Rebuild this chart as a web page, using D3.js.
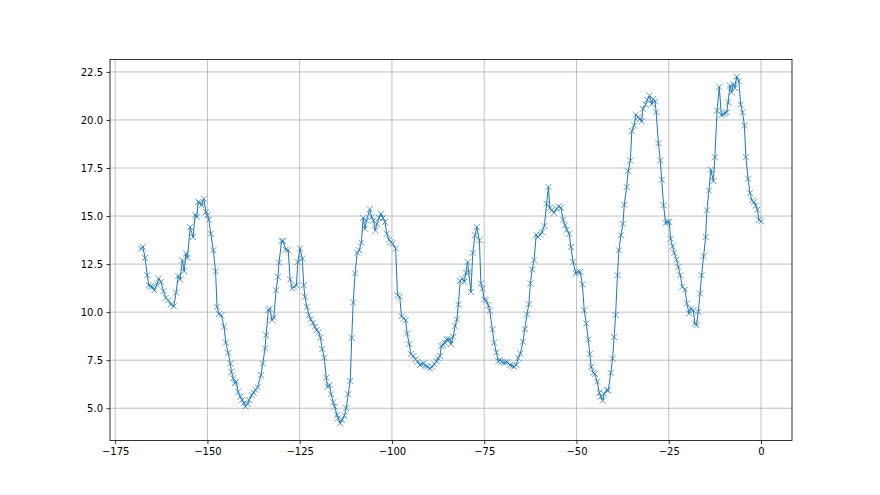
<!DOCTYPE html>
<html>
<head>
<meta charset="utf-8">
<script src="https://d3js.org/d3.v7.min.js"></script>
<style>
  body { margin: 0; background: #fff; }
  .tick text { font-family: "DejaVu Sans", sans-serif; font-size: 10px; fill: #000; }
</style>
</head>
<body>
<div id="chart"></div>
<script>
// hours before now (x) and readings (y)
var hours = [
  -168.0, -167.5, -166.9, -166.3, -165.9, -165.4, -164.9, -164.4, -163.7, -163.2,
  -162.6, -161.9, -161.3, -160.6, -159.9, -159.1, -158.5, -157.9, -157.4, -156.8,
  -156.3, -155.8, -155.4, -154.7, -153.9, -153.3, -152.9, -152.5, -152.0, -151.6,
  -151.0, -150.4, -150.0, -149.6, -149.1, -148.4, -147.8, -147.4, -146.9, -146.2,
  -145.5, -145.0, -144.4, -143.8, -143.5, -143.0, -142.6, -142.2, -141.7, -141.1,
  -140.6, -140.1, -139.7, -139.1, -138.7, -138.0, -137.5, -137.0, -136.4, -135.5,
  -135.0, -134.4, -134.1, -133.5, -133.1, -132.5, -132.0, -131.4, -130.9, -130.6,
  -129.9, -129.5, -128.8, -128.1, -127.6, -127.0, -126.5, -125.9, -125.5, -124.9,
  -124.3, -123.9, -123.6, -123.05, -122.5, -122.0, -121.4, -120.9, -120.4, -119.9,
  -119.4, -118.9, -118.35, -117.8, -117.45, -116.9, -116.5, -115.9, -115.5, -114.9,
  -114.6, -114.0, -113.5, -112.9, -112.4, -111.85, -111.3, -110.9, -110.5, -110.0,
  -109.4, -108.9, -108.3, -107.8, -107.3, -106.9, -106.0, -105.5, -105.0, -104.5,
  -104.1, -103.5, -103.0, -102.4, -101.9, -101.4, -100.8, -100.3, -99.8, -99.0,
  -98.5, -97.9, -97.4, -96.8, -96.3, -95.9, -95.3, -94.9, -94.2, -93.6,
  -93.06, -92.4, -92.0, -91.4, -90.9, -90.35, -89.7, -89.1, -88.5, -87.9,
  -87.5, -87.0, -86.6, -86.1, -85.7, -85.2, -84.75, -84.3, -84.0, -83.4,
  -82.9, -82.4, -82.0, -81.5, -80.95, -80.4, -80.0, -79.5, -79.2, -78.6,
  -78.1, -77.5, -77.0, -76.3, -75.9, -75.5, -75.0, -74.5, -73.9, -73.5,
  -72.8, -72.3, -71.7, -71.2, -70.7, -70.3, -69.75, -69.2, -68.7, -68.0,
  -67.4, -66.9, -66.3, -65.8, -65.2, -64.5, -64.0, -63.4, -62.9, -62.5,
  -62.0, -61.5, -60.9, -60.4, -59.8, -59.4, -58.7, -58.1, -57.6, -57.2,
  -56.7, -56.1, -55.4, -54.8, -54.2, -53.6, -53.1, -52.6, -52.0, -51.5,
  -50.9, -50.2, -49.7, -49.0, -48.4, -47.9, -47.35, -46.8, -46.4, -46.0,
  -45.45, -45.0, -44.4, -43.8, -43.4, -42.9, -42.5, -41.8, -41.4, -40.7,
  -40.2, -39.8, -39.4, -38.9, -38.5, -37.95, -37.4, -37.05, -36.4, -36.0,
  -35.4, -35.0, -34.4, -33.9, -33.3, -32.8, -32.35, -32.0, -31.3, -30.8,
  -30.2, -29.6, -29.2, -28.7, -28.4, -27.8, -27.3, -26.9, -26.4, -25.85,
  -25.3, -24.85, -24.5, -23.95, -23.5, -22.9, -22.4, -21.9, -21.3, -20.6,
  -20.07, -19.5, -19.0, -18.35, -17.9, -17.5, -17.0, -16.5, -16.1, -15.55,
  -15.0, -14.65, -14.1, -13.6, -12.9, -12.5, -11.9, -11.3, -10.75, -10.2,
  -9.7, -9.3, -8.9, -8.4, -7.96, -7.5, -7.1, -6.6, -6.0, -5.5,
  -5.0, -4.5, -4.1, -3.5, -3.0, -2.45, -1.9, -1.4, -1.0, -0.55,
  0.0
];

var temps = [
  13.30, 13.40, 12.82, 11.92, 11.40, 11.35, 11.31, 11.14, 11.44, 11.75,
  11.57, 11.09, 10.74, 10.62, 10.40, 10.31, 11.02, 11.89, 11.70, 12.70,
  12.13, 13.05, 12.82, 14.43, 13.91, 15.07, 14.95, 15.73, 15.68, 15.56,
  15.90, 15.21, 15.04, 14.81, 14.08, 13.22, 12.13, 10.28, 9.90, 9.84,
  9.24, 8.41, 7.89, 7.33, 6.90, 6.56, 6.30, 6.38, 5.86, 5.60,
  5.43, 5.26, 5.09, 5.22, 5.43, 5.69, 5.81, 5.95, 6.09, 6.73,
  7.33, 8.11, 8.81, 10.10, 10.19, 9.58, 9.72, 11.14, 11.84, 12.58,
  13.70, 13.70, 13.25, 13.22, 11.70, 11.23, 11.32, 11.40, 12.61, 13.31,
  12.79, 11.40, 10.80, 10.28, 9.84, 9.62, 9.45, 9.24, 9.07, 8.95,
  8.67, 8.08, 7.63, 6.59, 6.12, 6.21, 5.73, 5.31, 5.08, 4.65,
  4.48, 4.22, 4.39, 4.62, 5.00, 5.73, 6.42, 8.67, 10.50, 12.01,
  13.10, 13.22, 13.62, 14.90, 14.34, 14.78, 15.35, 14.95, 14.75, 14.25,
  14.60, 14.90, 15.12, 14.90, 14.69, 14.08, 13.77, 13.65, 13.57, 13.31,
  10.88, 10.80, 9.79, 9.67, 9.58, 8.89, 8.34, 7.82, 7.72, 7.54,
  7.42, 7.25, 7.30, 7.33, 7.20, 7.16, 7.07, 7.16, 7.30, 7.45,
  7.60, 7.72, 8.24, 8.29, 8.41, 8.58, 8.58, 8.58, 8.34, 8.72,
  9.27, 9.62, 10.40, 11.63, 11.75, 11.58, 12.04, 12.61, 12.09, 11.05,
  13.08, 14.00, 14.43, 13.74, 11.49, 11.23, 10.66, 10.62, 10.36, 10.07,
  9.10, 8.41, 7.90, 7.45, 7.51, 7.42, 7.39, 7.39, 7.39, 7.25,
  7.21, 7.16, 7.25, 7.60, 7.85, 8.46, 9.12, 9.88, 10.41, 11.49,
  12.22, 12.70, 14.03, 13.91, 14.03, 14.17, 14.48, 15.64, 16.51, 15.42,
  15.30, 15.17, 15.38, 15.50, 15.43, 14.81, 14.52, 14.29, 14.08, 13.39,
  12.61, 12.01, 12.09, 12.09, 11.45, 10.10, 9.41, 8.58, 7.82, 7.16,
  6.85, 6.78, 6.38, 5.81, 5.60, 5.40, 5.74, 5.95, 5.92, 6.85,
  7.59, 8.70, 9.85, 11.92, 13.22, 14.00, 14.60, 15.59, 16.51, 17.34,
  17.89, 19.42, 19.71, 20.28, 20.14, 20.06, 19.93, 20.58, 20.80, 21.04,
  21.27, 20.83, 21.09, 20.97, 20.40, 18.79, 17.89, 16.89, 15.56, 14.64,
  14.69, 14.69, 13.82, 13.42, 13.08, 12.73, 12.35, 11.92, 11.32, 11.18,
  10.45, 9.93, 10.19, 10.10, 9.41, 9.32, 10.02, 10.97, 11.92, 12.91,
  13.91, 15.30, 16.33, 17.41, 16.82, 18.06, 20.49, 21.72, 20.25, 20.30,
  20.36, 20.40, 20.92, 21.79, 21.44, 21.87, 21.67, 22.25, 22.01, 20.80,
  20.40, 19.71, 18.06, 16.94, 16.20, 15.81, 15.73, 15.55, 15.33, 14.81,
  14.72
];

var xTicks = [-175, -150, -125, -100, -75, -50, -25, 0];
var yTicks = [5.0, 7.5, 10.0, 12.5, 15.0, 17.5, 20.0, 22.5];

var svgWidth = 880;
var svgHeight = 495;

// same axes box as a default matplotlib figure
var margin = { top: 59.4, right: 88, bottom: 54.45, left: 110 };
var width = svgWidth - margin.left - margin.right;
var height = svgHeight - margin.top - margin.bottom;

var svg = d3.select("#chart")
  .append("svg")
  .attr("width", svgWidth)
  .attr("height", svgHeight);

var chartGroup = svg.append("g")
  .attr("transform", `translate(${margin.left}, ${margin.top})`);

var data = hours.map((h, i) => ({ h: h, t: temps[i] }));

// 5% padding on each side like matplotlib autoscale
var xExt = d3.extent(hours);
var yExt = d3.extent(temps);
var xPad = (xExt[1] - xExt[0]) * 0.05;
var yPad = (yExt[1] - yExt[0]) * 0.05;

var xScale = d3.scaleLinear()
  .domain([xExt[0] - xPad, xExt[1] + xPad])
  .range([0, width]);

var yScale = d3.scaleLinear()
  .domain([yExt[0] - yPad, yExt[1] + yPad])
  .range([height, 0]);

// grid
chartGroup.append("g")
  .selectAll("line")
  .data(xTicks)
  .enter()
  .append("line")
  .attr("x1", d => xScale(d))
  .attr("x2", d => xScale(d))
  .attr("y1", 0)
  .attr("y2", height)
  .attr("stroke", "#b0b0b0")
  .attr("stroke-width", 0.8);

chartGroup.append("g")
  .selectAll("line")
  .data(yTicks)
  .enter()
  .append("line")
  .attr("x1", 0)
  .attr("x2", width)
  .attr("y1", d => yScale(d))
  .attr("y2", d => yScale(d))
  .attr("stroke", "#b0b0b0")
  .attr("stroke-width", 0.8);

// line
var line = d3.line()
  .x(d => xScale(d.h))
  .y(d => yScale(d.t));

chartGroup.append("path")
  .datum(data)
  .attr("fill", "none")
  .attr("stroke", "#1f77b4")
  .attr("stroke-width", 1)
  .attr("stroke-linejoin", "round")
  .attr("d", line);

// x markers
var m = 3;
chartGroup.append("g")
  .selectAll("path")
  .data(data)
  .enter()
  .append("path")
  .attr("d", d => {
    var cx = xScale(d.h), cy = yScale(d.t);
    return `M${cx - m},${cy - m}L${cx + m},${cy + m}M${cx - m},${cy + m}L${cx + m},${cy - m}`;
  })
  .attr("stroke", "#1f77b4")
  .attr("stroke-width", 0.7)
  .attr("fill", "none");

// axes
var bottomAxis = d3.axisBottom(xScale)
  .tickValues(xTicks)
  .tickFormat(d => d3.format("d")(d))
  .tickSize(3.5)
  .tickPadding(3.5);

var leftAxis = d3.axisLeft(yScale)
  .tickValues(yTicks)
  .tickFormat(d3.format(".1f"))
  .tickSize(3.5)
  .tickPadding(3.5);

var gx = chartGroup.append("g")
  .attr("transform", `translate(0, ${height})`)
  .call(bottomAxis);

var gy = chartGroup.append("g")
  .call(leftAxis);

[gx, gy].forEach(g => {
  g.select(".domain").remove();
  g.selectAll(".tick line").attr("stroke", "#000").attr("stroke-width", 0.8);
});

// frame
chartGroup.append("rect")
  .attr("width", width)
  .attr("height", height)
  .attr("fill", "none")
  .attr("stroke", "#000")
  .attr("stroke-width", 0.8);
</script>
</body>
</html>
